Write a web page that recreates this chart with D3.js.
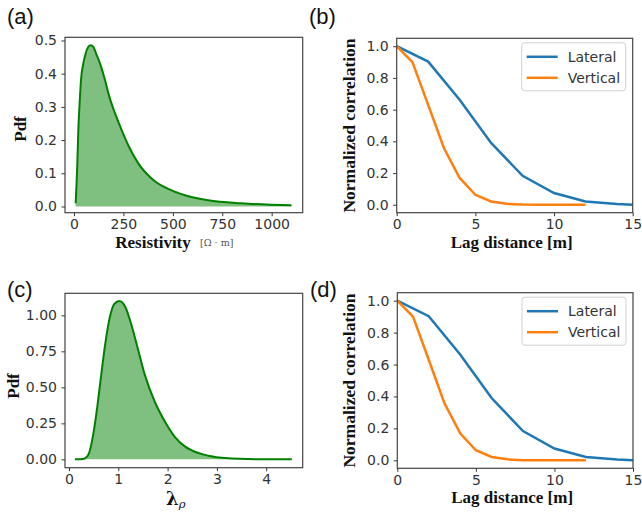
<!DOCTYPE html>
<html>
<head>
<meta charset="utf-8">
<script src="https://cdn.jsdelivr.net/npm/d3@7"></script>
<style>
  body { margin: 0; background: #fff; }
  svg { display: block; }
  .tick text { font-family: "DejaVu Sans", sans-serif; font-size: 14px; fill: #333; }
  .tick line { stroke: #333; }
  .lab { font-family: "Liberation Serif", "Times New Roman", serif; font-weight: bold; font-size: 17px; fill: #111; }
  .plab { font-family: "Liberation Sans", Arial, sans-serif; font-size: 22px; fill: #111; }
</style>
</head>
<body>
<script>
// (a) resistivity pdf
var resistivity    = [8.4, 16.9, 21.9, 30.3, 35.4, 47.2, 59, 72.5, 84.3, 97.8, 114.7, 131.5, 156.8, 178.7, 207.4, 241.1, 278.2, 325.4, 401.3, 477.1, 561.5, 679, 848, 1100];
var resistivityPdf = [0.0096, 0.13, 0.23, 0.331, 0.381, 0.431, 0.461, 0.481, 0.486, 0.481, 0.456, 0.431, 0.381, 0.331, 0.281, 0.230, 0.180, 0.130, 0.080, 0.053, 0.034, 0.019, 0.0095, 0.0036];
var resTicks = [0, 250, 500, 750, 1000];
var pdfTicksA = [0, 0.1, 0.2, 0.3, 0.4, 0.5];

// (c) lambda_rho pdf
var lambdaRho = [0.12, 0.29, 0.39, 0.49, 0.56, 0.63, 0.73, 0.83, 0.92, 1.02, 1.14, 1.27, 1.41, 1.54, 1.74, 1.95, 2.15, 2.35, 2.49, 2.83, 3.16, 3.84, 4.52];
var lambdaPdf = [0, 0.003, 0.03, 0.17, 0.33, 0.52, 0.79, 0.99, 1.08, 1.10, 1.06, 0.93, 0.75, 0.585, 0.40, 0.26, 0.155, 0.09, 0.062, 0.025, 0.009, 0.001, 0];
var lambdaTicks = [0, 1, 2, 3, 4];
var pdfTicksC = [0, 0.25, 0.5, 0.75, 1.0];

// (b),(d) normalized correlation vs lag
var seriesNames = ['Lateral', 'Vertical'];
var seriesColors = ['#1f77b4', '#ff7f0e'];
var lagLateral  = [0, 2, 4, 6, 8, 10, 12, 14, 15];
var corrLateral = [1.0, 0.903, 0.663, 0.39, 0.183, 0.074, 0.021, 0.005, 0.0];
var lagVertical  = [0, 1, 2, 3, 4, 5, 6, 7, 8, 9, 10, 11, 12];
var corrVertical = [1.0, 0.9, 0.63, 0.358, 0.169, 0.063, 0.021, 0.006, 0.001, 0, 0, 0, 0];
var lagTicks = [0, 5, 10, 15];
var corrTicks = [0, 0.2, 0.4, 0.6, 0.8, 1.0];

var svg = d3.select('body').append('svg').attr('width', 642).attr('height', 512);

function frame(box, xdom, ydom, xticks, yticks, xfmt, yfmt){
    var x = d3.scaleLinear().domain(xdom).range([box.x0, box.x1]);
    var y = d3.scaleLinear().domain(ydom).range([box.y1, box.y0]);
    svg.append('g').attr('transform', 'translate(0,' + box.y1 + ')')
        .call(d3.axisBottom(x).tickValues(xticks).tickFormat(d3.format(xfmt)).tickSize(3.5).tickPadding(3))
        .call(g => g.select('.domain').remove());
    svg.append('g').attr('transform', 'translate(' + box.x0 + ',0)')
        .call(d3.axisLeft(y).tickValues(yticks).tickFormat(d3.format(yfmt)).tickSize(3.5).tickPadding(4.5))
        .call(g => g.select('.domain').remove());
    return {x: x, y: y};
}

function border(box){
    svg.append('rect').attr('x', box.x0).attr('y', box.y0)
        .attr('width', box.x1 - box.x0).attr('height', box.y1 - box.y0)
        .attr('fill', 'none').attr('stroke', '#444').attr('stroke-width', 1.2);
}

function pdfPanel(box, xs, ys, xdom, ydom, xticks, yticks, xfmt, yfmt){
    var s = frame(box, xdom, ydom, xticks, yticks, xfmt, yfmt);
    var pts = xs.map((v, i) => [v, ys[i]]);
    var area = d3.area().x(d => s.x(d[0])).y0(s.y(0)).y1(d => s.y(d[1])).curve(d3.curveMonotoneX);
    var line = d3.line().x(d => s.x(d[0])).y(d => s.y(d[1])).curve(d3.curveMonotoneX);
    svg.append('path').attr('d', area(pts)).attr('fill', '#008000').attr('fill-opacity', 0.5);
    svg.append('path').attr('d', line(pts)).attr('fill', 'none').attr('stroke', '#008000').attr('stroke-width', 2);
    border(box);
}

function corrPanel(box){
    var s = frame(box, [0, 15], [-0.05, 1.05], lagTicks, corrTicks, 'd', '.1f');
    var sets = [[lagLateral, corrLateral], [lagVertical, corrVertical]];
    var line = d3.line().x(d => s.x(d[0])).y(d => s.y(d[1]));
    sets.forEach((st, k) => {
        var pts = st[0].map((v, i) => [v, st[1][i]]);
        svg.append('path').attr('d', line(pts)).attr('fill', 'none')
            .attr('stroke', seriesColors[k]).attr('stroke-width', 2.5);
    });
    border(box);
    // legend
    var lx = box.x1 - 111, ly = box.y0 + 4.5;
    svg.append('rect').attr('x', lx).attr('y', ly).attr('width', 104).attr('height', 48).attr('rx', 3)
        .attr('fill', '#fff').attr('fill-opacity', 0.8).attr('stroke', '#d0d0d0');
    seriesNames.forEach((n, k) => {
        var yy = ly + 14 + k * 21;
        svg.append('line').attr('x1', lx + 5).attr('x2', lx + 36).attr('y1', yy).attr('y2', yy)
            .attr('stroke', seriesColors[k]).attr('stroke-width', 2.5);
        svg.append('text').attr('x', lx + 46).attr('y', yy).attr('dy', '0.36em')
            .style('font-family', '"DejaVu Sans", sans-serif').style('font-size', '14px').attr('fill', '#333').text(n);
    });
    svg.append('text').attr('class', 'lab').attr('text-anchor', 'middle')
        .attr('transform', 'translate(' + (box.x0 - 42) + ',' + ((box.y0 + box.y1) / 2) + ') rotate(-90)')
        .style('font-size', '17.5px').text('Normalized correlation');
    svg.append('text').attr('class', 'lab').attr('text-anchor', 'middle')
        .attr('x', (box.x0 + box.x1) / 2 - 3).attr('y', box.y1 + 34.8).text('Lag distance [m]');
}

// (a)
var boxA = {x0: 65, x1: 302.7, y0: 37.3, y1: 212.7};
pdfPanel(boxA, resistivity, resistivityPdf, [-45.5, 1157], [-0.0187, 0.5096], resTicks, pdfTicksA, 'd', '.1f');
svg.append('text').attr('class', 'lab').attr('x', 153).attr('y', 247.5).attr('text-anchor', 'middle').text('Resistivity');
svg.append('text').attr('x', 200).attr('y', 246)
    .style('font-family', '"DejaVu Serif", serif').style('font-size', '9.5px').attr('fill', '#555').text('[Ω · m]');
svg.append('text').attr('class', 'lab')
    .attr('transform', 'translate(25.5,129) rotate(-90)').attr('text-anchor', 'middle').text('Pdf');

// (c)
var boxC = {x0: 65, x1: 302.7, y0: 293.3, y1: 467.7};
pdfPanel(boxC, lambdaRho, lambdaPdf, [-0.081, 4.74], [-0.058, 1.153], lambdaTicks, pdfTicksC, 'd', '.2f');
var lam = svg.append('text').attr('x', 166).attr('y', 504.5).style('font-family', '"DejaVu Serif", serif');
lam.append('tspan').style('font-weight', 'bold').style('font-size', '18px').attr('fill', '#111').text('λ');
lam.append('tspan').attr('dy', 3.5).style('font-style', 'italic').style('font-size', '11.5px').attr('fill', '#111').text('ρ');
svg.append('text').attr('class', 'lab')
    .attr('transform', 'translate(18.5,386) rotate(-90)').attr('text-anchor', 'middle').text('Pdf');

// (b), (d)
corrPanel({x0: 396.7, x1: 632.7, y0: 38.3, y1: 212.7});
corrPanel({x0: 397.3, x1: 633, y0: 292.7, y1: 468.3});

// panel letters
[['(a)', 7, 24], ['(b)', 309, 24], ['(c)', 7, 297], ['(d)', 310, 297]].forEach(p => {
    svg.append('text').attr('class', 'plab').attr('x', p[1]).attr('y', p[2]).text(p[0]);
});
</script>
</body>
</html>
